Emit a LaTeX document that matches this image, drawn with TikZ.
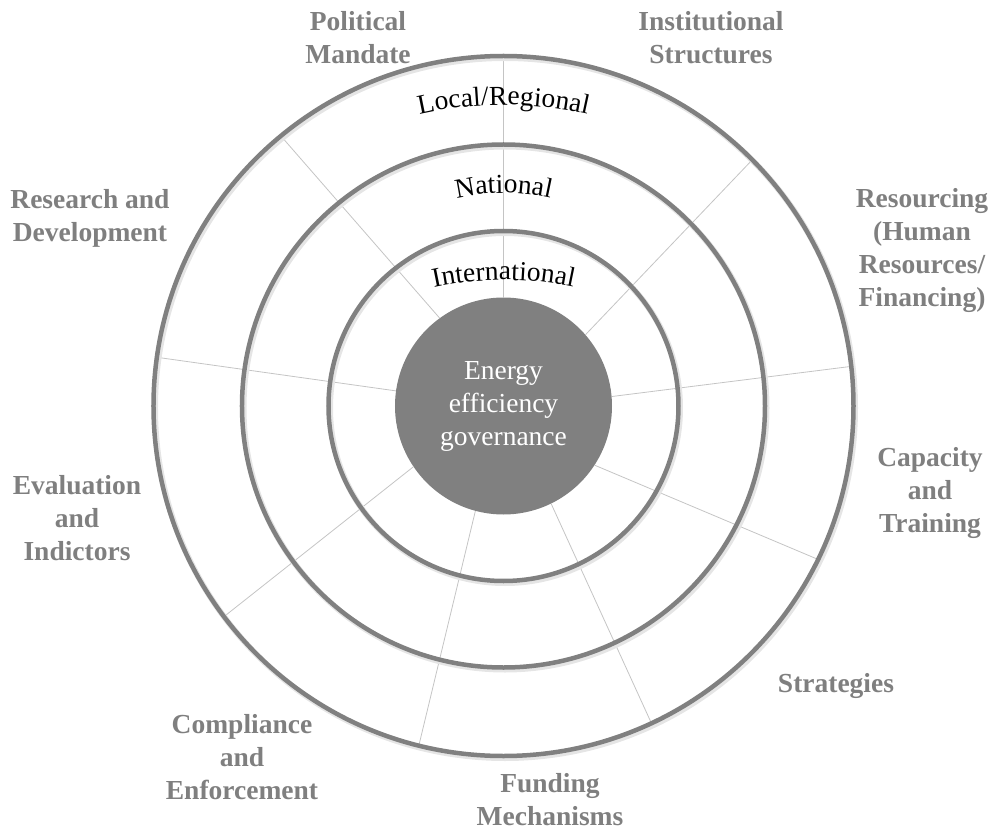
\documentclass[tikz,border=0pt]{standalone}
\usepackage{fontspec}
\setmainfont{Liberation Serif}
\usetikzlibrary{decorations.text}

\definecolor{ringgray}{HTML}{808080}
\definecolor{labelgray}{HTML}{7F7F7F}
\definecolor{spokegray}{HTML}{C4C4C4}
\newcommand{\bigtext}{\fontsize{27.5}{33}\selectfont}

\tikzset{
	ring/.style={draw=ringgray, line width=4.5pt},
	ringshadow/.style={draw=black!10, line width=6pt},
	spoke/.style={draw=spokegray, line width=0.8pt},
	hub/.style={circle, fill=ringgray, minimum size=217pt, inner sep=0pt, text=white, font=\bigtext, align=center},
	dimension/.style={text=labelgray, font=\bigtext\bfseries, align=center},
	level/.style={decorate, decoration={text along path, text align=center, text={|\bigtext|#1}}}
}

\begin{document}
\begin{tikzpicture}[x=1pt, y=1pt]

					\useasboundingbox (-503.5,-424) rectangle (489.5,406);

					% hub
					\node [hub] (hub) at (0,0) {Energy\\efficiency\\governance};

					% spokes
					\foreach \a/\b in {90/90, 126/129.5, 172/172, 214.5/217, 255.5/256, 296/295, 327/334, 5/6.5, 41/44.7}
						\draw [spoke] (hub.\a) -- (\b:350);

					% rings
					\foreach \r in {175,261.5,350} {
						\draw [ringshadow] (1.5,-2) circle [radius=\r];
						\draw [ring] (0,0) circle [radius=\r];
					}

					% levels
					\path [level=Local/Regional] (0,-79) ++(110:380) arc [start angle=110, end angle=70, radius=380];
					\path [level=National] (0,0) ++(125:213) arc [start angle=125, end angle=55, radius=213];
					\path [level=International] (0,-204) ++(110:330) arc [start angle=110, end angle=70, radius=330];

					% dimensions
					\node [dimension] (political) at (-145.5,368) {Political\\Mandate};
					\node [dimension] (institutional) at (207.5,368) {Institutional\\Structures};
					\node [dimension] (research) at (-413.5,188) {Research and\\Development};
					\node [dimension] (resourcing) at (418.5,156) {Resourcing\\(Human\\Resources/\\Financing)};
					\node [dimension] (evaluation) at (-426.5,-112) {Evaluation\\and\\Indictors};
					\node [dimension] (capacity) at (426.5,-87) {Capacity\\and\\Training};
					\node [dimension] (strategies) at (332.5,-280) {Strategies};
					\node [dimension] (compliance) at (-261.5,-351) {Compliance\\and\\Enforcement};
					\node [dimension] (funding) at (46.5,-394) {Funding\\Mechanisms};

				\end{tikzpicture}
\end{document}
